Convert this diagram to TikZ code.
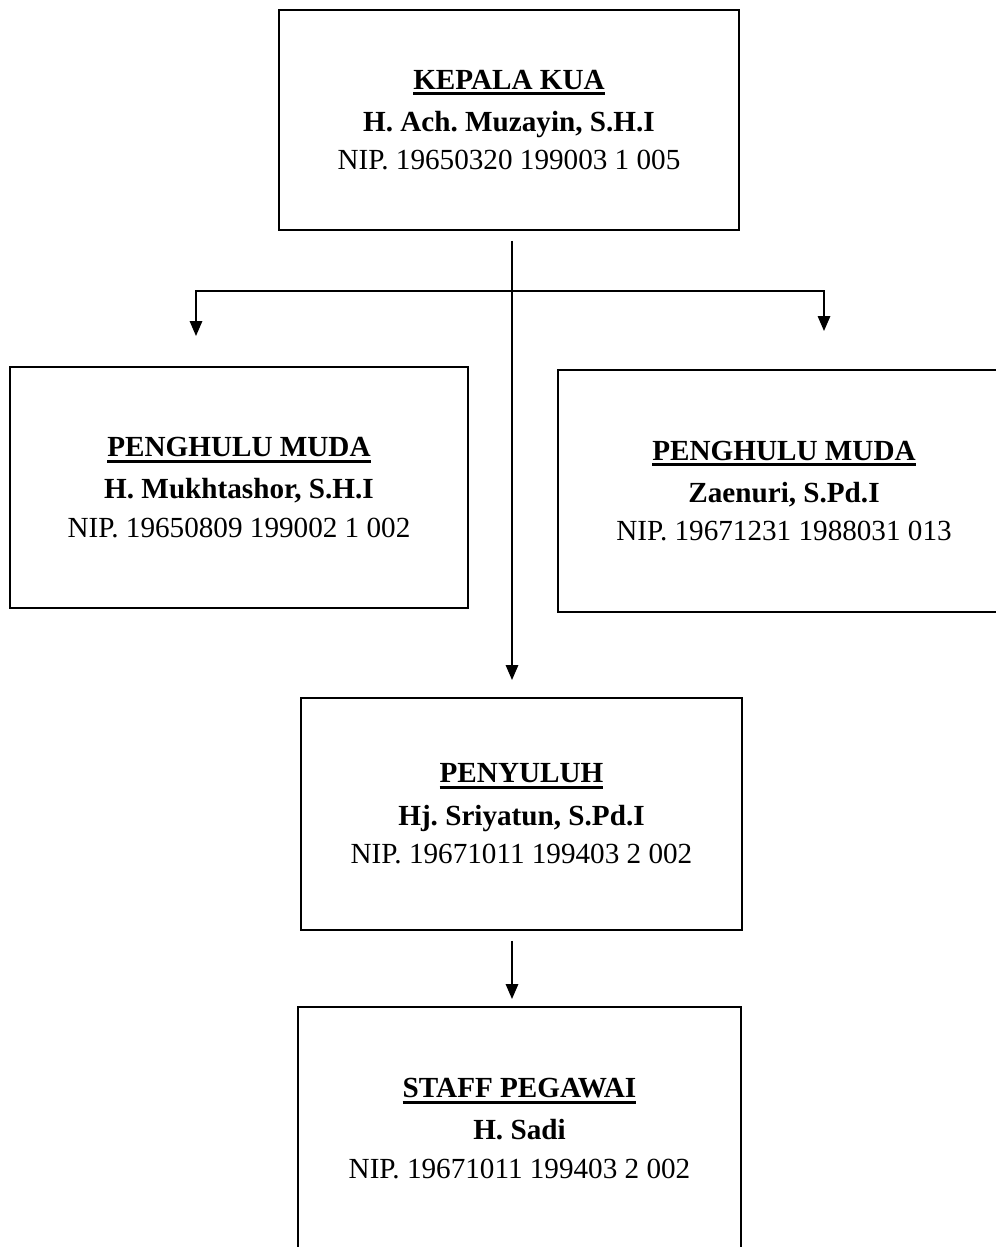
\documentclass[tikz,border=0pt]{standalone}
\usepackage{fontspec}
\setmainfont{Liberation Serif}
\usetikzlibrary{arrows.meta,positioning}
\frenchspacing
\newcommand{\garisbawah}[1]{\setbox0\hbox{#1}\leavevmode\rlap{\rule[-3.4pt]{\wd0}{1.6pt}}\box0}

\begin{document}
\begin{tikzpicture}[x=0.02cm,y=-0.02cm,
	kotak/.style={draw, line width=1.1pt, align=center, inner sep=0pt, font=\fontsize{16.6}{22}\selectfont},
	teks/.style={align=center, inner sep=0pt, font=\fontsize{16.6}{22}\selectfont},
	panah/.style={line width=1.1pt, -{Triangle[length=8.5pt,width=7pt]}}]
	\useasboundingbox (0,0) rectangle (996,1247);

	\node[kotak, minimum width=9.2cm, minimum height=4.4cm] (kepala) at (509,120)
		{\garisbawah{\textbf{KEPALA KUA}}\\[2pt] \textbf{H. Ach. Muzayin, S.H.I}\\ NIP. 19650320 199003 1 005};
	\node[kotak, minimum width=9.16cm, minimum height=4.82cm] (muda1) at (239,487.5)
		{\garisbawah{\textbf{PENGHULU MUDA}}\\[2pt] \textbf{H. Mukhtashor, S.H.I}\\ NIP. 19650809 199002 1 002};
	\node[kotak, minimum width=9.04cm, minimum height=4.84cm] (muda2) at (784,491)
		{\garisbawah{\textbf{PENGHULU MUDA}}\\[2pt] \textbf{Zaenuri, S.Pd.I}\\ NIP. 19671231 1988031 013};
	\node[kotak, minimum width=8.82cm, minimum height=4.64cm] (penyuluh) at (521.5,814)
		{\garisbawah{\textbf{PENYULUH}}\\[2pt] \textbf{Hj. Sriyatun, S.Pd.I}\\ NIP. 19671011 199403 2 002};
	\node[kotak, minimum width=8.86cm, minimum height=5cm] (staff) at (519.5,1132) {};
	\node[teks] (staffteks) at (519.5,1128.5)
		{\garisbawah{\textbf{STAFF PEGAWAI}}\\[2pt] \textbf{H. Sadi}\\ NIP. 19671011 199403 2 002};

	\coordinate (cabang) at (512,291);

	% garis cabang
	\draw[panah, shorten >=30*0.02cm] (cabang) -| (muda1.north -| 196,0);
	\draw[panah, shorten >=38*0.02cm] (cabang) -| (muda2.north -| 824,0);
	\draw[panah, shorten <=10*0.02cm, shorten >=17*0.02cm] (kepala.south -| cabang) -- (penyuluh.north -| cabang);
	\draw[panah, shorten <=10*0.02cm, shorten >=7*0.02cm] (penyuluh.south -| cabang) -- (staff.north -| cabang);
\end{tikzpicture}
\end{document}
